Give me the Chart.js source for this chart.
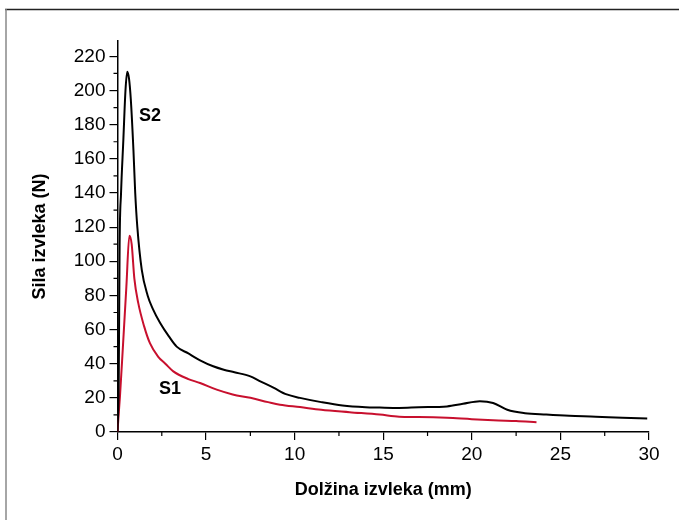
<!DOCTYPE html>
<html>
<head>
<meta charset="utf-8">
<script src="https://cdn.jsdelivr.net/npm/chart.js@4"></script>
<style>
  body { margin: 0; background: #fff; }
  canvas { display: block; }
</style>
</head>
<body>
<canvas id="pullChart" width="679" height="520"></canvas>
<script>
// S2 - black curve
const s2X = [0, 0.07, 0.12, 0.2, 0.33, 0.45, 0.55, 0.65, 0.75, 0.9, 1.0, 1.12, 1.37, 1.7, 2.0, 2.4, 2.9, 3.34, 4.0, 4.66, 5.4, 6.0, 6.6, 7.5, 8.0, 8.8, 9.55, 10.3, 11.5, 12.7, 14.0, 14.8, 15.9, 17.0, 18.6, 19.5, 20.45, 21.2, 22.0, 23.0, 24.2, 25.5, 27.0, 28.5, 29.9];
const s2Y = [0, 30, 110, 140, 171, 200, 211, 207, 195, 165, 140, 120, 95, 80, 72, 64, 56, 50, 46, 42, 38.5, 36.5, 35, 32.6, 30, 26, 22, 20, 17.5, 15.5, 14.5, 14.3, 14.1, 14.5, 15, 16.5, 18, 17, 13, 11, 10.2, 9.5, 9, 8.3, 7.9];

// S1 - red curve
const s1X = [0, 0.05, 0.14, 0.3, 0.5, 0.67, 0.8, 0.95, 1.17, 1.5, 1.83, 2.3, 2.7, 3.15, 4.0, 4.66, 5.6, 6.5, 7.5, 8.5, 9.17, 10.3, 11.5, 13.1, 14.8, 15.9, 17.0, 18.6, 20.0, 21.5, 22.5, 23.65];
const s1Y = [0, 8, 21, 49, 85, 115, 110, 90, 75.6, 62, 52, 44, 40, 35.5, 31, 28.7, 24.8, 22, 20, 17.5, 16, 14.6, 13, 11.6, 10.2, 9, 8.8, 8.3, 7.5, 6.8, 6.4, 5.7];

const xMinor = [2.5, 7.5, 12.5, 17.5, 22.5, 27.5];
const yMinor = [10, 30, 50, 70, 90, 110, 130, 150, 170, 190, 210];

// curve names with their position in data units
const curveLabels = [
  { text: "S2", x: 1.83, y: 185 },
  { text: "S1", x: 2.96, y: 25 }
];

function toPoints(xs, ys) {
  return xs.map((x, i) => ({ x: x, y: ys[i] }));
}

const font = "'Liberation Sans', Arial, sans-serif";

// page frame, minor ticks and S1/S2 labels
const extras = {
  id: "extras",
  beforeDraw(chart) {
    const c = chart.ctx;
    c.save();
    c.strokeStyle = "#222";
    c.lineWidth = 1.5;
    c.beginPath();
    c.moveTo(5, 9.5);
    c.lineTo(679, 9.5);
    c.stroke();
    c.strokeStyle = "#888";
    c.beginPath();
    c.moveTo(6, 9);
    c.lineTo(6, 520);
    c.stroke();
    c.restore();
  },
  afterDraw(chart) {
    const c = chart.ctx;
    const xs = chart.scales.x;
    const ys = chart.scales.y;
    const area = chart.chartArea;
    c.save();
    c.strokeStyle = "#000";
    c.lineWidth = 1.2;
    c.beginPath();
    yMinor.forEach(v => {
      const py = ys.getPixelForValue(v);
      c.moveTo(area.left, py);
      c.lineTo(area.left - 4, py);
    });
    xMinor.forEach(v => {
      const px = xs.getPixelForValue(v);
      c.moveTo(px, area.bottom);
      c.lineTo(px, area.bottom + 4);
    });
    c.stroke();

    c.fillStyle = "#000";
    c.font = "bold 18px " + font;
    c.textAlign = "center";
    c.textBaseline = "middle";
    curveLabels.forEach(l => {
      c.fillText(l.text, xs.getPixelForValue(l.x), ys.getPixelForValue(l.y));
    });
    c.restore();
  }
};

const ctx = document.getElementById("pullChart").getContext("2d");

new Chart(ctx, {
  type: "line",
  data: {
    datasets: [
      {
        label: "S2",
        data: toPoints(s2X, s2Y),
        borderColor: "#000000",
        borderWidth: 2,
        pointRadius: 0,
        cubicInterpolationMode: "monotone"
      },
      {
        label: "S1",
        data: toPoints(s1X, s1Y),
        borderColor: "#c8102e",
        borderWidth: 2,
        pointRadius: 0,
        cubicInterpolationMode: "monotone"
      }
    ]
  },
  options: {
    responsive: false,
    animation: false,
    layout: {
      padding: { left: 8, right: 30, top: 41, bottom: 0 }
    },
    plugins: {
      legend: { display: false },
      tooltip: { enabled: false }
    },
    scales: {
      x: {
        type: "linear",
        min: 0,
        max: 30,
        afterFit(scale) { scale.height = 88; },
        ticks: {
          stepSize: 5,
          color: "#000",
          padding: 3,
          font: { family: font, size: 19 }
        },
        grid: {
          drawOnChartArea: false,
          drawTicks: true,
          tickLength: 8,
          color: "#000",
          lineWidth: 1.2
        },
        border: { color: "#000", width: 1.5 },
        title: {
          display: true,
          text: "Dolžina izvleka (mm)",
          color: "#000",
          font: { family: font, size: 18, weight: "bold" },
          padding: { top: 0, bottom: 19 }
        }
      },
      y: {
        min: 0,
        max: 229,
        afterFit(scale) { scale.width = 109.5; },
        ticks: {
          stepSize: 20,
          includeBounds: false,
          color: "#000",
          padding: 4,
          font: { family: font, size: 19 }
        },
        grid: {
          drawOnChartArea: false,
          drawTicks: true,
          tickLength: 8,
          color: "#000",
          lineWidth: 1.2
        },
        border: { color: "#000", width: 1.5 },
        title: {
          display: true,
          text: "Sila izvleka (N)",
          color: "#000",
          font: { family: font, size: 18, weight: "bold" },
          padding: { top: 21, bottom: 0 }
        }
      }
    }
  },
  plugins: [extras]
});
</script>
</body>
</html>
